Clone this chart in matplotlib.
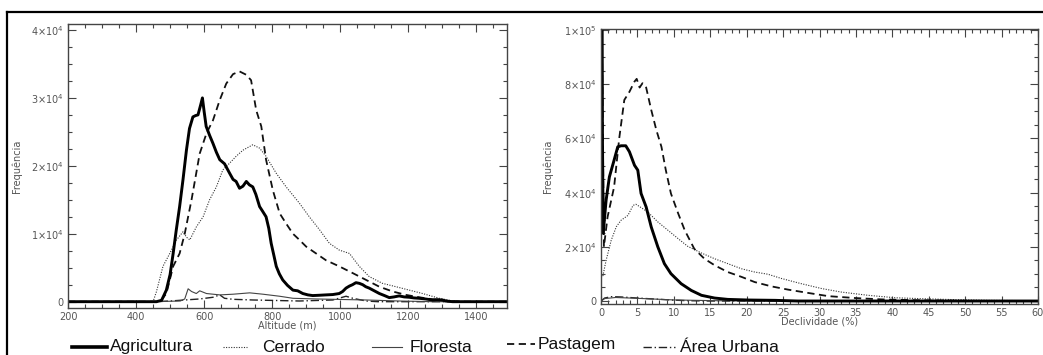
import matplotlib
matplotlib.use("Agg")
import matplotlib.pyplot as plt
from matplotlib.lines import Line2D
from matplotlib.ticker import MultipleLocator, FuncFormatter

# Altitude (m) histograms
alt_agri = [200, 460, 475, 489, 500, 509, 518, 528, 538, 548, 557, 567, 575, 582, 590, 595, 600, 606, 616,
            626, 636, 646, 660, 675, 685, 694, 704, 714, 724, 733, 743, 752, 763, 772, 782, 790, 797, 805,
            812, 821, 831, 845, 861, 875, 890, 905, 919, 940, 958, 978, 997, 1007, 1017, 1027, 1036, 1046,
            1056, 1066, 1075, 1085, 1100, 1115, 1130, 1144, 1158, 1173, 1188, 1203, 1217, 1232, 1250, 1271,
            1285, 1300, 1310, 1330, 1490]
freq_agri = [0, 0, 200, 1700, 4000, 7100, 10500, 14000, 18000, 22300, 25500, 27200, 27400, 27500, 29000,
             30000, 28000, 25800, 24500, 23300, 22000, 20900, 20300, 18900, 18000, 17700, 16700, 17000, 17700,
             17200, 16900, 15800, 14000, 13300, 12500, 10800, 8600, 6800, 5200, 4100, 3200, 2400, 1700, 1600,
             1200, 1000, 900, 950, 1000, 1050, 1200, 1500, 2000, 2300, 2500, 2800, 2700, 2500, 2200, 2000,
             1600, 1200, 900, 600, 700, 850, 700, 650, 550, 500, 400, 250, 300, 250, 100, 0, 0]

alt_cerr = [200, 450, 460, 479, 499, 519, 538, 548, 558, 577, 597, 616, 636, 655, 675, 694, 714, 743, 763,
            782, 812, 841, 880, 909, 939, 968, 997, 1027, 1056, 1085, 1124, 1164, 1203, 1242, 1291, 1330,
            1369, 1490]
freq_cerr = [0, 0, 1500, 5200, 7100, 9100, 10300, 9500, 9100, 11000, 12500, 15000, 16900, 19400, 20400,
             21400, 22300, 23100, 22600, 21400, 18900, 16900, 14500, 12500, 10600, 8600, 7600, 7100, 5200,
             3700, 2700, 2200, 1700, 1200, 500, 100, 0, 0]

alt_flor = [200, 450, 530, 543, 553, 563, 577, 587, 607, 646, 685, 734, 773, 822, 861, 929, 978, 1076, 1173,
            1271, 1490]
freq_flor = [0, 0, 100, 400, 1900, 1500, 1200, 1600, 1200, 1000, 1100, 1300, 1100, 800, 500, 400, 350, 250,
             100, 0, 0]

alt_past = [200, 470, 489, 509, 528, 543, 563, 587, 607, 626, 646, 665, 685, 704, 724, 738, 753, 768, 782,
            802, 822, 841, 861, 880, 900, 929, 958, 997, 1037, 1076, 1115, 1154, 1193, 1232, 1271, 1320,
            1369, 1490]
freq_past = [0, 0, 1200, 5200, 7100, 10000, 15000, 21800, 24800, 26700, 29700, 32100, 33500, 33900, 33400,
             32600, 28200, 25800, 20900, 16400, 13000, 11500, 10000, 9100, 8100, 7100, 6100, 5200, 4200,
             3200, 2200, 1500, 1000, 650, 350, 100, 0, 0]

alt_urb = [200, 460, 500, 543, 587, 626, 646, 660, 685, 743, 880, 978, 1017, 1037, 1076, 1110, 1490]
freq_urb = [0, 0, 100, 250, 400, 650, 1000, 500, 350, 250, 100, 250, 800, 500, 100, 0, 0]

# Declividade (%) histograms
dec_agri = [0.15, 0.2, 0.3, 0.7, 1.15, 1.8, 2.3, 2.75, 3.4, 3.9, 4.6, 5.05, 5.5, 6.2, 6.9, 7.8, 8.7, 9.6, 11,
            12.4, 13.8, 15.6, 17.4, 20.2, 23.9, 27, 60]
fdec_agri = [110000, 60000, 25000, 37200, 45800, 52000, 56900, 57300, 57300, 55100, 50100, 48300, 39700,
             34700, 27300, 20000, 13800, 10100, 6400, 3900, 2100, 1100, 600, 370, 250, 0, 0]

dec_cerr = [0, 0.23, 0.7, 1.4, 2.1, 2.75, 3.7, 4.4, 4.8, 5.5, 6.4, 7.8, 9.2, 10.6, 11.9, 13.8, 15.6, 17.4,
            19.3, 21.1, 22.9, 24.8, 27.5, 30.3, 33, 36.7, 40.4, 44, 48.6, 53.2, 60]
fdec_cerr = [9000, 8900, 15000, 22400, 27400, 29800, 31600, 35300, 35700, 34500, 32900, 29200, 26100,
             23000, 20200, 17700, 15600, 13800, 11900, 10700, 9900, 8300, 6400, 4600, 3300, 2100, 1200, 860,
             500, 250, 100]

dec_flor = [0, 0.5, 2, 5, 10, 15, 20, 60]
fdec_flor = [0, 900, 1300, 1000, 400, 150, 0, 0]

dec_past = [0.1, 0.4, 0.9, 1.8, 2.5, 3.2, 3.9, 4.6, 4.9, 5.3, 5.7, 6.2, 6.9, 7.6, 8.3, 8.9, 9.6, 10.6, 11.5,
            12.8, 14.2, 15.6, 17.4, 19.3, 21.1, 23.4, 25.7, 28.4, 31.2, 34.9, 38.5, 44, 48.6, 53, 60]
fdec_past = [105000, 20000, 31000, 42100, 60000, 74200, 77200, 81000, 82000, 78800, 80400, 78800, 70500,
             63100, 56900, 48300, 39700, 32300, 26100, 19300, 15600, 13200, 10700, 8900, 7000, 5400, 4200,
             3000, 1800, 1100, 600, 250, 120, 0, 0]

dec_urb = [0, 0.5, 1.4, 2.75, 5, 7.3, 9.6, 11.9, 15, 60]
fdec_urb = [0, 1100, 1600, 1500, 1100, 740, 370, 120, 0, 0]

labels = ["Agricultura", "Cerrado", "Floresta", "Pastagem", "Área Urbana"]

W, H = 1043, 355
styles = {
    "Agricultura": dict(color="black", lw=2.1, ls="-"),
    "Cerrado": dict(color="#333333", lw=0.8, ls=(0, (1, 1.3))),
    "Floresta": dict(color="#444444", lw=0.8, ls="-"),
    "Pastagem": dict(color="#111111", lw=1.3, ls=(0, (4, 2.5))),
    "Área Urbana": dict(color="#222222", lw=1.0, ls=(0, (6, 2, 1, 2))),
}


def sci_fmt(v, pos):
    if v == 0:
        return "0"
    e = 0
    m = v
    while abs(m) >= 10:
        m /= 10
        e += 1
    return r"$%d{\times}10^{%d}$" % (round(m), e)


def px_axes(left, top, right, bottom):
    return [left / W, 1 - bottom / H, (right - left) / W, (bottom - top) / H]


fig = plt.figure(figsize=(W / 100, H / 100), dpi=100)
plt.rcParams["font.family"] = ["DejaVu Sans"]
grey = "#555555"

ax1 = fig.add_axes(px_axes(68, 24, 507, 308))
ax2 = fig.add_axes(px_axes(601, 29, 1038, 304))

ax1.plot(alt_urb, freq_urb, **styles["Área Urbana"])
ax1.plot(alt_flor, freq_flor, **styles["Floresta"])
ax1.plot(alt_cerr, freq_cerr, **styles["Cerrado"])
ax1.plot(alt_past, freq_past, **styles["Pastagem"])
ax1.plot(alt_agri, freq_agri, **styles["Agricultura"])

ax2.plot(dec_urb, fdec_urb, **styles["Área Urbana"])
ax2.plot(dec_flor, fdec_flor, **styles["Floresta"])
ax2.plot(dec_cerr, fdec_cerr, **styles["Cerrado"])
ax2.plot(dec_past, fdec_past, **styles["Pastagem"])
ax2.plot(dec_agri, fdec_agri, **styles["Agricultura"])

ax1.set_xlim(200, 1490)
ax1.set_ylim(-930, 40880)
ax1.xaxis.set_major_locator(MultipleLocator(200))
ax1.xaxis.set_minor_locator(MultipleLocator(50))
ax1.yaxis.set_major_locator(MultipleLocator(10000))
ax1.yaxis.set_minor_locator(MultipleLocator(2500))
ax1.set_xlabel("Altitude (m)", fontsize=7, color=grey, labelpad=-1)
ax1.set_ylabel("Frequência", fontsize=7, color=grey)
ax1.yaxis.set_label_coords(-0.105, 0.5)

ax2.set_xlim(0, 60)
ax2.set_ylim(-1100, 100400)
ax2.xaxis.set_major_locator(MultipleLocator(5))
ax2.xaxis.set_minor_locator(MultipleLocator(1))
ax2.yaxis.set_major_locator(MultipleLocator(20000))
ax2.yaxis.set_minor_locator(MultipleLocator(5000))
ax2.set_xlabel("Declividade (%)", fontsize=7, color=grey, labelpad=-1)
ax2.set_ylabel("Frequência", fontsize=7, color=grey)
ax2.yaxis.set_label_coords(-0.11, 0.5)

for ax in (ax1, ax2):
    ax.yaxis.set_major_formatter(FuncFormatter(sci_fmt))
    ax.tick_params(which="both", direction="in", top=True, right=True, colors="#444444",
                   labelcolor=grey, labelsize=7, width=0.8)
    ax.tick_params(which="major", length=6, pad=3)
    ax.tick_params(which="minor", length=3)
    for s in ax.spines.values():
        s.set_color("#444444")
        s.set_linewidth(1.0)

# outer frame (top and left edges)
fig.add_artist(Line2D([7 / W, 1.0], [1 - 12 / H, 1 - 12 / H], transform=fig.transFigure, color="black", lw=1.6))
fig.add_artist(Line2D([7 / W, 7 / W], [0, 1 - 12 / H], transform=fig.transFigure, color="black", lw=1.6))

# legend row
legend_pos = [
    ("Agricultura", 72, 107, 110, 347),
    ("Cerrado", 223, 247, 262, 347),
    ("Floresta", 372, 402, 410, 347),
    ("Pastagem", 507, 535, 538, 344),
    ("Área Urbana", 643, 675, 680, 347),
]
for name, x0, x1, xt, y in legend_pos:
    st = dict(styles[name])
    if name == "Agricultura":
        st["lw"] = 2.6
    fig.add_artist(Line2D([x0 / W, x1 / W], [1 - y / H, 1 - y / H], transform=fig.transFigure, **st))
    fig.text(xt / W, 1 - y / H, name, fontsize=12.5, va="center", ha="left",
             family=["Liberation Sans", "DejaVu Sans"], color="#111111")

fig.savefig("out.png", dpi=100)
